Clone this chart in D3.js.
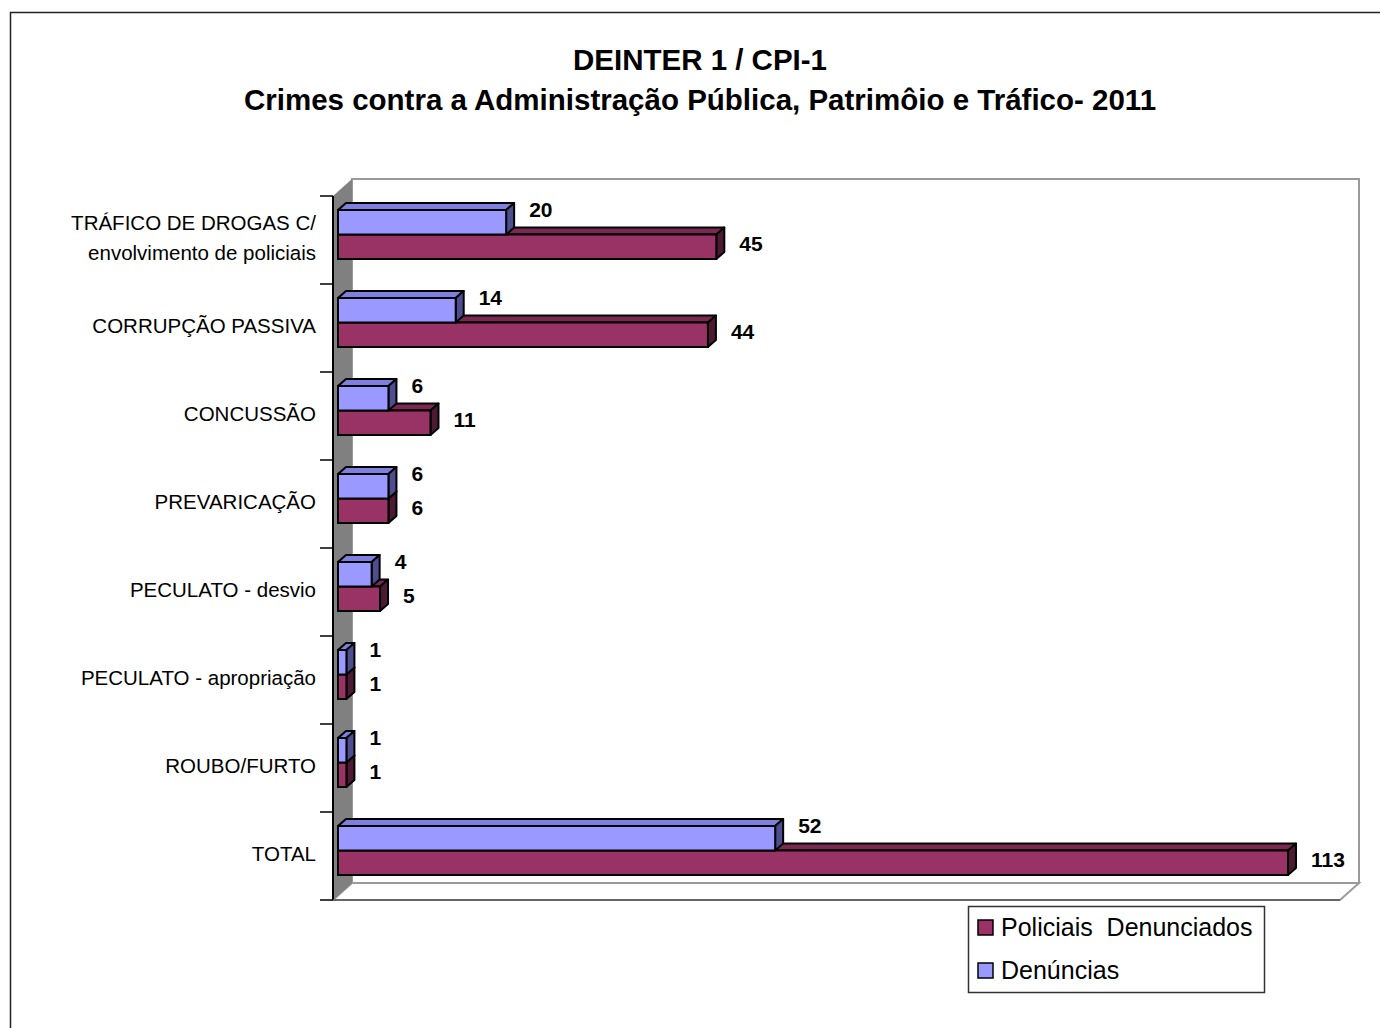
<!DOCTYPE html>
<html><head><meta charset="utf-8">
<script src="https://cdn.jsdelivr.net/npm/d3@7"></script>
<style>body{margin:0;background:#fff}svg{display:block;font-family:"Liberation Sans",Arial,sans-serif}</style>
</head><body>
<script>
const titleLines = ["DEINTER 1 / CPI-1", "Crimes contra a Administração Pública, Patrimôio e Tráfico- 2011"];
const categories = [["TRÁFICO DE DROGAS C/", "envolvimento de policiais"], ["CORRUPÇÃO PASSIVA"], ["CONCUSSÃO"], ["PREVARICAÇÃO"], ["PECULATO - desvio"], ["PECULATO - apropriação"], ["ROUBO/FURTO"], ["TOTAL"]];
const denuncias = [20, 14, 6, 6, 4, 1, 1, 52];
const policiais = [45, 44, 11, 6, 5, 1, 1, 113];
const seriesNames = ["Policiais  Denunciados", "Denúncias"];
const xMax = 120;

const W = 1380, H = 1028;
const svg = d3.select("body").append("svg").attr("width", W).attr("height", H);

// outer frame
svg.append("path").attr("d", `M10.5,${H}V12.5H${W}`).attr("fill", "none").attr("stroke", "#222").attr("stroke-width", 1.5);

// titles
svg.selectAll("text.title").data(titleLines).join("text")
  .attr("x", 700).attr("y", (d, i) => 60 + i * 40).attr("dy", "0.35em")
  .attr("text-anchor", "middle").attr("font-weight", "bold").attr("font-size", 29.5)
  .text(d => d);

// plot geometry
const fx0 = 333, fx1 = 1340, fy0 = 196, fy1 = 900; // front plane
const ox = 19, oy = -17; // wall depth offset
const idx = d3.range(categories.length);
const y = d3.scaleBand().domain(idx).range([fy0, fy1]);
const x = d3.scaleLinear().domain([0, xMax]).range([338, 338 + 8.407 * xMax]);

// back wall
svg.append("rect").attr("x", fx0 + ox).attr("y", fy0 + oy).attr("width", fx1 - fx0).attr("height", fy1 - fy0)
  .attr("fill", "#fff").attr("stroke", "#9a9a9a").attr("stroke-width", 2);
// floor
svg.append("path").attr("d", `M${fx0},${fy1}L${fx0 + ox},${fy1 + oy}H${fx1 + ox}L${fx1},${fy1}Z`)
  .attr("fill", "#fff").attr("stroke", "#9a9a9a").attr("stroke-width", 2);
// left wall
svg.append("path").attr("d", `M${fx0},${fy0}L${fx0 + ox},${fy0 + oy}V${fy1 + oy}L${fx0},${fy1}Z`)
  .attr("fill", "#808080").attr("stroke", "none");
// axis line and ticks
svg.append("line").attr("x1", fx0).attr("x2", fx0).attr("y1", fy0).attr("y2", fy1).attr("stroke", "#000").attr("stroke-width", 2);
svg.append("line").attr("x1", fx0).attr("x2", fx1).attr("y1", fy1).attr("y2", fy1).attr("stroke", "#555").attr("stroke-width", 1.5);
const tickYs = idx.map(i => y(i)).concat([fy1]);
svg.selectAll("line.tick").data(tickYs).join("line")
  .attr("x1", fx0 - 13).attr("x2", fx0).attr("y1", d => d).attr("y2", d => d)
  .attr("stroke", "#000").attr("stroke-width", 1.5);

// category labels
const catG = svg.selectAll("text.cat").data(categories).join("text")
  .attr("text-anchor", "end").attr("font-size", 20.5).attr("fill", "#000");
catG.each(function (lines, i) {
  const cy = y(i) + y.bandwidth() / 2 - 2;
  d3.select(this).selectAll("tspan").data(lines).join("tspan")
    .attr("x", 316).attr("y", (d, j) => cy + (j - (lines.length - 1) / 2) * 30).attr("dy", "0.35em")
    .text(d => d);
});

// 3D bars
const dx = 8, dy = -7, bh = 24.5, off = 14;
const colors = {
  pol: { front: "#993366", top: "#7a2952", side: "#4d1a33" },
  den: { front: "#9999ff", top: "#7f7fdf", side: "#4d4d8f" }
};
function bar3d(g, v, top, c) {
  const x0 = x(0), x1 = x(v);
  g.append("path").attr("d", `M${x0},${top}L${x0 + dx},${top + dy}H${x1 + dx}L${x1},${top}Z`)
    .attr("fill", c.top).attr("stroke", "#000").attr("stroke-width", 2).attr("stroke-linejoin", "round");
  g.append("path").attr("d", `M${x1},${top}L${x1 + dx},${top + dy}V${top + dy + bh}L${x1},${top + bh}Z`)
    .attr("fill", c.side).attr("stroke", "#000").attr("stroke-width", 2).attr("stroke-linejoin", "round");
  g.append("rect").attr("x", x0).attr("y", top).attr("width", x1 - x0).attr("height", bh)
    .attr("fill", c.front).attr("stroke", "#000").attr("stroke-width", 2);
}
const barsG = svg.append("g");
idx.forEach(i => {
  const g = barsG.append("g");
  const topDen = y(i) + off;
  const topPol = topDen + bh;
  bar3d(g, policiais[i], topPol, colors.pol);
  bar3d(g, denuncias[i], topDen, colors.den);
});

// value labels
const lab = svg.append("g").attr("font-weight", "bold").attr("font-size", 21).attr("fill", "#000");
lab.selectAll("text.den").data(denuncias).join("text")
  .attr("x", d => x(d) + dx + 15).attr("y", (d, i) => y(i) + off).attr("dy", "0.35em").text(d => d);
lab.selectAll("text.pol").data(policiais).join("text")
  .attr("x", d => x(d) + dx + 15).attr("y", (d, i) => y(i) + off + bh * 1.5 - 3).attr("dy", "0.35em").text(d => d);

// legend
const lg = svg.append("g");
lg.append("rect").attr("x", 968.5).attr("y", 906.5).attr("width", 296).attr("height", 86)
  .attr("fill", "#fff").attr("stroke", "#333").attr("stroke-width", 1.5);
const legColors = [colors.pol.front, colors.den.front];
seriesNames.forEach((n, i) => {
  const cy = 927 + i * 43;
  lg.append("rect").attr("x", 978).attr("y", cy - 7).attr("width", 15).attr("height", 15)
    .attr("fill", legColors[i]).attr("stroke", "#000").attr("stroke-width", 1.5);
  lg.append("text").attr("x", 1001).attr("y", cy).attr("dy", "0.35em").attr("font-size", 25)
    .attr("xml:space", "preserve").style("white-space", "pre").text(n);
});
</script>
</body></html>
